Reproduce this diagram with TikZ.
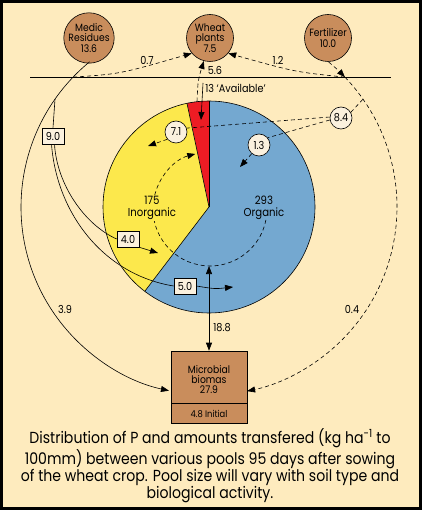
\documentclass[tikz,border=0pt]{standalone}
\usepackage{fontspec}
\setmainfont{Poppins}[FakeStretch=0.88]
\usetikzlibrary{arrows.meta,calc}
\definecolor{bg}{RGB}{254,235,190}
\definecolor{pbrown}{RGB}{201,141,92}
\definecolor{pyellow}{RGB}{252,232,76}
\definecolor{pred}{RGB}{237,28,36}
\definecolor{pblue}{RGB}{116,168,208}
\definecolor{lite}{RGB}{251,241,222}
\begin{document}
\begin{tikzpicture}[x=1pt,y=-1pt,line width=0.6pt,
  pool/.style={circle,draw=black,fill=pbrown,minimum size=47pt,inner sep=0pt,align=center,
    font=\fontsize{10.5}{10.5}\selectfont},
  flowc/.style={circle,draw=black,fill=lite,minimum size=22pt,inner sep=0pt,
    font=\fontsize{11}{11}\selectfont},
  amt/.style={draw=black,fill=lite,minimum width=22pt,minimum height=16pt,inner sep=0pt,
    font=\fontsize{11}{11}\selectfont},
  lbl/.style={inner sep=0pt,font=\fontsize{11}{11}\selectfont},
  mbox/.style={draw=black,fill=pbrown,minimum width=76pt,inner sep=0pt},
  tip/.style={-{Triangle[length=8pt,width=6pt]}},
  dtip/.style={{Triangle[length=8pt,width=6pt]}-{Triangle[length=8pt,width=6pt]}},
  dsh/.style={dash pattern=on 4pt off 3pt}]
% background and frame
\fill[black] (0,0) rectangle (422,510);
\fill[bg] (3,3) rectangle (418.5,506.5);
\useasboundingbox (0,0) rectangle (422,510);
% pie
\coordinate (pc) at (209,207);
\fill[pblue] (pc) circle[radius=106];
\fill[pred] (pc) -- ++(-90:106) arc[start angle=-90,end angle=-102,radius=106] -- cycle;
\fill[pyellow] (pc) -- ++(-102:106) arc[start angle=-102,end angle=-232.7,radius=106] -- cycle;
\draw (pc) circle[radius=106];
\draw (pc) -- ++(-90:106);
\draw (pc) -- ++(-102:106);
\draw (pc) -- ++(-232.7:106);
% horizontal ground line
\coordinate (hlL) at (30,77);
\coordinate (hlR) at (391,77);
\draw (hlL) -- (hlR);
% pools
\node[pool] (medic) at (89,38) {Medic\\Residues\\13.6};
\node[pool] (wheat) at (210,38) {Wheat\\plants\\7.5};
\node[pool] (fert) at (328,38) {Fertilizer\\10.0};
% flow circles and boxes
\node[flowc] (c71) at (176,132) {7.1};
\node[flowc] (c13) at (259,145) {1.3};
\node[flowc] (c84) at (341,118) {8.4};
\node[amt] (b9) at (53,136) {9.0};
\node[amt] (b40) at (128,239) {4.0};
\node[amt] (b50) at (185,286) {5.0};
% microbial biomass
\node[mbox,minimum height=52pt] (micro) at (209,377) {};
\node[mbox,minimum height=20pt] (init) at (209,413) {};
\node[lbl,align=center,font=\fontsize{10.5}{10}\selectfont] (microtxt) at (209,380) {Microbial\\biomas\\27.9};
\node[lbl,font=\fontsize{9.5}{9}\selectfont] (inittxt) at (209,414) {4.8 Initial};
% key coordinates
\coordinate (ms) at ($(pc)+(230.6:188)$);
\coordinate (mhub) at ($(pc)+(223.7:188)$);
\coordinate (msplit) at ($(pc)+(215:188)$);
\coordinate (fs) at ($(pc)+(-50.5:188)$);
\coordinate (fhub) at ($(pc)+(-43.7:188)$);
\coordinate (f84) at ($(pc)+(-35:188)$);
\coordinate (avs) at (197,101.5);
\coordinate (avp) at (203,83);
\coordinate (redin) at (201,120);
\coordinate (t13) at (240,167);
\coordinate (t71) at (148,146);
\coordinate (t40) at (158,253);
\coordinate (t50) at (233,287);
\coordinate (icb) at (209,266);
% big arcs
\draw[tip] (ms) arc[start angle=230.6,end angle=102.3,radius=188];
\draw[tip,dsh] (fs) arc[start angle=-50.5,end angle=-43.7,radius=188];
\draw[tip,dsh] (fhub) arc[start angle=-43.7,end angle=78.3,radius=188];
% flows to wheat
\draw[tip,dsh] (mhub) .. controls (120,74) .. (wheat.-140);
\draw[tip,dsh] (fhub) .. controls (295,72) .. (wheat.-40);
\draw[tip,dsh] (avs) .. controls (198,80) .. (wheat.-105);
% available pointer
\draw[tip] (avp) -- (redin);
% fertilizer branches
\draw[dsh] (f84) -- (c84.30);
\draw[dsh] (c84.175) -- (c71.20);
\draw[dsh] (c84.190) -- (c13.40);
\draw[tip,dsh] (c13.-130) -- (t13);
\draw[tip,dsh] (c71.-140) -- (t71);
% medic branches
\draw (msplit) -- (b9.north);
\draw ([xshift=1.5pt]b9.south) .. controls (57,185) and (85,225) .. (b40.west);
\draw ([xshift=-1.5pt]b9.south) .. controls (57,215) and (105,275) .. (b50.west);
\draw[tip] (b40.south east) -- (t40);
\draw[tip] (b50.east) .. controls (215,289) .. (t50);
% inner cycle
\draw[tip,dsh] ($(pc)+(1,2)+(11:57)$) arc[start angle=11,end angle=255,radius=57];
% microbial exchange
\draw[dtip] (micro.north) -- (icb);
% pie labels (masking the inner cycle)
\node[lbl,align=center,fill=pyellow,inner sep=1pt,font=\fontsize{11.5}{12}\selectfont] (inorg) at (152,208) {175\\Inorganic};
\node[lbl,align=center,font=\fontsize{11.5}{12}\selectfont] (org) at (264,208) {293\\Organic};
% labels
\node[lbl] (l07) at (147,60) {0.7};
\node[lbl] (l12) at (278,60) {1.2};
\node[lbl] (l56) at (215,70) {5.6};
\node[lbl,anchor=west] (avl) at (205,88) {13 ‘Available’};
\node[lbl] (l39) at (65,309) {3.9};
\node[lbl] (l04) at (352,309) {0.4};
\node[lbl] (l188) at (222,328) {18.8};
% caption
\node[inner sep=0pt,align=center,font=\fontsize{16}{16}\selectfont] (cap) at (210,466)
 {Distribution of P and amounts transfered (kg ha\textsuperscript{-1} to\\
  100mm) between various pools 95 days after sowing\\
  of the wheat crop. Pool size will vary with soil type and\\
  biological activity.};
\end{tikzpicture}
\end{document}
